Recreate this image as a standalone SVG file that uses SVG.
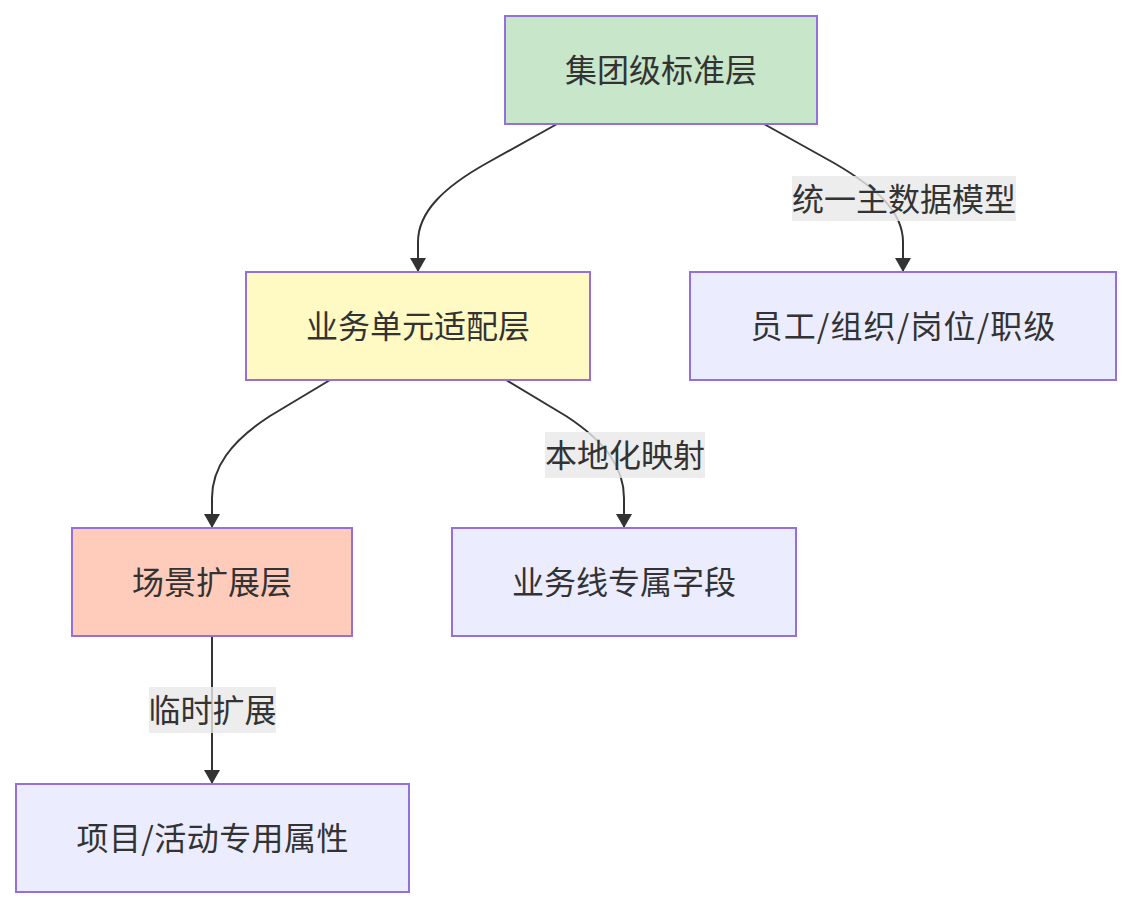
<svg xmlns="http://www.w3.org/2000/svg" width="1132" height="908" viewBox="0 0 1132 908">
<style>
.node rect{stroke:#9370DB;stroke-width:2}
.node text,.lbl text{font-family:"Noto Sans CJK SC","Liberation Sans",sans-serif;font-size:32px;fill:#333;text-anchor:middle;dominant-baseline:central}
.edge{fill:none;stroke:#333;stroke-width:2}
.lbl rect{fill:#e8e8e8;fill-opacity:0.8}
</style>
<defs>
<marker id="arr" markerUnits="userSpaceOnUse" viewBox="0 0 14 16" refX="14" refY="8" markerWidth="14" markerHeight="16" orient="auto">
<path d="M0,0 L14,8 L0,16 z" fill="#333"/>
</marker>
</defs>
<rect width="1132" height="908" fill="#fff"/>
<g id="connectors">
<path class="edge" d="M557,124 L487,163 C444,187 418,212 418,242 L418,272" marker-end="url(#arr)"/>
<path class="edge" d="M764,124 L834,163 C877,188 903,212 903,242 L903,272" marker-end="url(#arr)"/>
<path class="edge" d="M330,380 L270,416 C230,442 212,468 212,498 L212,528" marker-end="url(#arr)"/>
<path class="edge" d="M506,380 L566,416 C606,442 624,468 624,498 L624,528" marker-end="url(#arr)"/>
<path class="edge" d="M212,636 L212,784" marker-end="url(#arr)"/>
<g class="lbl"><rect x="792" y="176" width="224" height="45"/><text x="904" y="196.5">统一主数据模型</text></g>
<g class="lbl"><rect x="545" y="432" width="160" height="46"/><text x="625" y="453">本地化映射</text></g>
<g class="lbl"><rect x="149" y="687" width="127" height="46"/><text x="212.5" y="708">临时扩展</text></g>
</g>
<g id="n1" class="node"><rect x="505" y="16" width="312" height="108" fill="#c8e6c9"/><text x="661" y="68">集团级标准层</text></g>
<g id="n2" class="node"><rect x="246" y="272" width="344" height="108" fill="#fff9c4"/><text x="418" y="324">业务单元适配层</text></g>
<g id="n3" class="node"><rect x="690" y="272" width="426" height="108" fill="#ececff"/><text x="903" y="324" textLength="305" lengthAdjust="spacing">员工/组织/岗位/职级</text></g>
<g id="n4" class="node"><rect x="72" y="528" width="280" height="108" fill="#ffccbc"/><text x="212" y="580">场景扩展层</text></g>
<g id="n5" class="node"><rect x="452" y="528" width="344" height="108" fill="#ececff"/><text x="624" y="580">业务线专属字段</text></g>
<g id="n6" class="node"><rect x="16" y="784" width="393" height="108" fill="#ececff"/><text x="212.5" y="836" textLength="272" lengthAdjust="spacing">项目/活动专用属性</text></g>
</svg>
